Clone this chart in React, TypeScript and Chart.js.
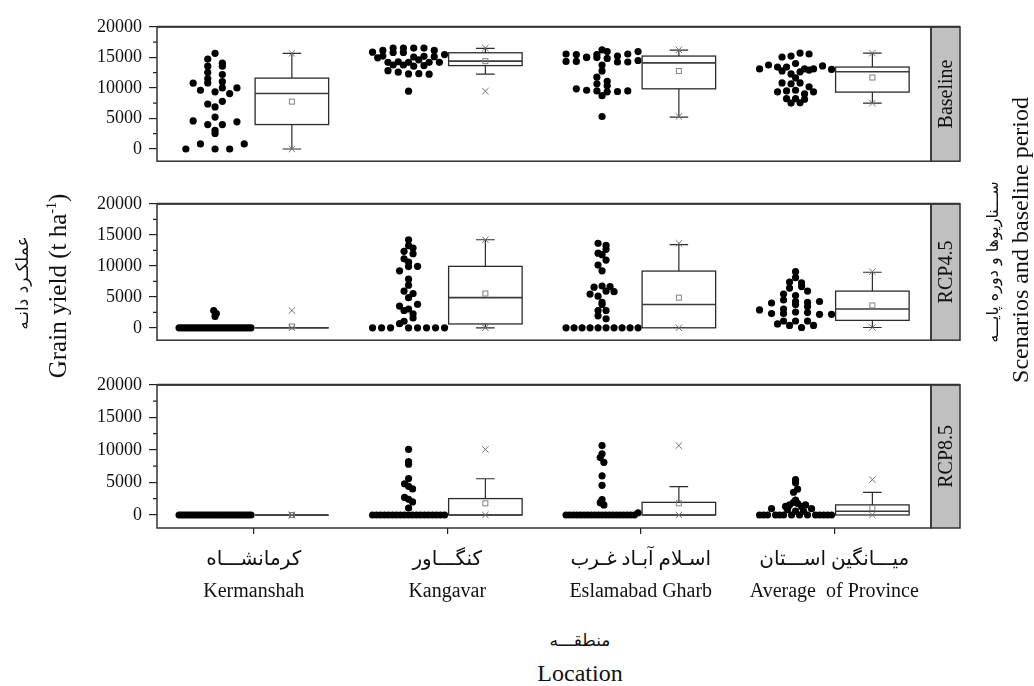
import React, { useEffect, useRef } from "react";
import { Chart, registerables } from "chart.js";

Chart.register(...registerables);

// ---------- categories / labels ----------
const locationsFa = ["کرمانشـــاه", "کنگـــاور", "اسـلام آبـاد غـرب", "میـــانگین اســـتان"];
const locationsEn = ["Kermanshah", "Kangavar", "Eslamabad Gharb", "Average  of Province"];
const scenarioLabels = ["Baseline", "RCP4.5", "RCP8.5"];
const yTickValues = [0, 2500, 5000, 7500, 10000, 12500, 15000, 17500, 20000];
const categoryTicks = [1, 2, 3, 4];

// ---------- Baseline yields ----------
const baseKermanshah = [15650, 14720, 13550, 14040, 13550, 12530, 12190, 11510, 11020, 10780, 10820, 10000, 9610, 10000, 9360, 9070, 7360, 7800, 6880, 4590, 4000, 4000, 4440, 5220, 2540, 3030, 0, 830, 0, 0, 830];
const baseKangavar = [15840, 14920, 15210, 16140, 16520, 16520, 16520, 16520, 15790, 15790, 16140, 14190, 14280, 13750, 14190, 14580, 14190, 13750, 15060, 13550, 13650, 15160, 15110, 15450, 14190, 12820, 12580, 12290, 12330, 12240, 9460];
const baseEslamabad = [15550, 14330, 14330, 15450, 15060, 15450, 15940, 16230, 14970, 14970, 14820, 14240, 13750, 14240, 15210, 15550, 15940, 14480, 12770, 11750, 11070, 10680, 10340, 9850, 9610, 9510, 9360, 9410, 8730, 9510, 5320];
const baseAverage = [13110, 13750, 13410, 13410, 15060, 15210, 15700, 15550, 13990, 13110, 13110, 12770, 12290, 12630, 12920, 13600, 13020, 11650, 10820, 10680, 10820, 10190, 9360, 9510, 9610, 9020, 8240, 9360, 7510, 7560, 8240, 8140];

// ---------- RCP4.5 yields ----------
const rcp45Kermanshah = [0, 0, 0, 0, 0, 0, 0, 0, 0, 0, 0, 0, 0, 0, 0, 0, 0, 0, 0, 0, 0, 0, 0, 0, 0, 0, 0, 0, 2790, 2310, 1830];
const rcp45Kangavar = [0, 0, 0, 670, 0, 0, 0, 0, 1060, 1590, 2790, 3510, 2250, 3030, 3800, 4860, 5920, 5530, 6880, 7850, 9190, 9870, 10590, 9910, 11130, 11940, 12330, 12860, 13240, 14200, 0];
const rcp45Eslamabad = [0, 0, 0, 0, 0, 0, 0, 0, 0, 0, 1930, 1450, 2790, 3760, 2790, 4090, 5440, 5100, 5920, 5820, 6550, 6740, 6650, 9190, 10120, 10930, 12040, 11790, 12660, 13630, 13290];
const rcp45Average = [3030, 3760, 2890, 2310, 2310, 4000, 2550, 2460, 2170, 2170, 3420, 4480, 4240, 4090, 4240, 5440, 5200, 5920, 7370, 6400, 6650, 8090, 9050, 7230, 1100, 620, 1100, 380, 50, 1100, 380];

// ---------- RCP8.5 yields ----------
const rcp85Kermanshah = [0, 0, 0, 0, 0, 0, 0, 0, 0, 0, 0, 0, 0, 0, 0, 0, 0, 0, 0, 0, 0, 0, 0, 0, 0, 0, 0, 0, 0, 0, 0];
const rcp85Kangavar = [0, 0, 0, 0, 0, 0, 0, 0, 0, 0, 0, 0, 0, 0, 0, 0, 0, 0, 0, 10080, 8200, 7800, 5600, 4800, 4400, 4000, 2700, 2400, 2000, 1070];
const rcp85Eslamabad = [0, 0, 0, 0, 0, 0, 0, 0, 0, 0, 0, 0, 0, 0, 0, 0, 0, 0, 0, 0, 340, 10660, 9400, 8820, 8090, 6010, 4550, 2370, 1890, 1550];
const rcp85Average = [0, 0, 0, 970, 0, 0, 0, 820, 0, 580, 0, 580, 0, 970, 0, 0, 0, 0, 0, 1310, 1550, 1940, 1790, 1310, 1550, 2280, 3490, 5430, 4940, 3970];

// ---------- box statistics (per location) ----------
const baseQ1 = [4000, 13650, 9850, 9310];
const baseMedian = [9070, 14380, 14090, 12630];
const baseQ3 = [11600, 15750, 15210, 13410];
const baseMean = [7750, 14380, 12770, 11700];
const baseWhiskerLow = [0, 12240, 5220, 7510];
const baseWhiskerHigh = [15650, 16480, 16190, 15700];

const rcp45Q1 = [0, 620, 0, 1200];
const rcp45Median = [0, 4860, 3760, 3030];
const rcp45Q3 = [0, 9910, 9150, 5920];
const rcp45Mean = [220, 5530, 4860, 3610];
const rcp45WhiskerLow = [0, 0, 0, 50];
const rcp45WhiskerHigh = [0, 14200, 13430, 8960];

const rcp85Q1 = [0, 0, 0, 0];
const rcp85Median = [0, 0, 0, 580];
const rcp85Q3 = [0, 2520, 1940, 1550];
const rcp85Mean = [0, 1790, 1790, 1070];
const rcp85WhiskerLow = [0, 0, 0, 0];
const rcp85WhiskerHigh = [0, 5570, 4360, 3470];

// ---------- layout constants ----------
const SERIF = "'Liberation Serif', 'Times New Roman', 'DejaVu Sans', serif";
const PLOT_LEFT = 157;
const PLOT_RIGHT = 931;
const CANVAS_W = 1034;
const STRIP_W = 29;
const X_MIN = 0.5;
const X_MAX = 4.5;
const Y_MIN = -2000;
const Y_MAX = 20000;
const DOT_SHIFT = -0.2;
const BOX_SHIFT = 0.197;
const BOX_HALF = 0.19;
const CAP_HALF = 0.048;
const DOT_R = 3.6;
const BIN = 1000;
const SWARM_W = 72;
const MAX_SPACING = 14.6;
const X_AXIS_H = 90;

type Panel = {
  label: string;
  series: number[][];
  q1: number[];
  median: number[];
  q3: number[];
  mean: number[];
  wLo: number[];
  wHi: number[];
  plotH: number;
  canvasTop: number;
  xAxis: boolean;
};

const panels: Panel[] = [
  { label: scenarioLabels[0], series: [baseKermanshah, baseKangavar, baseEslamabad, baseAverage], q1: baseQ1, median: baseMedian, q3: baseQ3, mean: baseMean, wLo: baseWhiskerLow, wHi: baseWhiskerHigh, plotH: 150, canvasTop: 9, xAxis: false },
  { label: scenarioLabels[1], series: [rcp45Kermanshah, rcp45Kangavar, rcp45Eslamabad, rcp45Average], q1: rcp45Q1, median: rcp45Median, q3: rcp45Q3, mean: rcp45Mean, wLo: rcp45WhiskerLow, wHi: rcp45WhiskerHigh, plotH: 152, canvasTop: 186, xAxis: false },
  { label: scenarioLabels[2], series: [rcp85Kermanshah, rcp85Kangavar, rcp85Eslamabad, rcp85Average], q1: rcp85Q1, median: rcp85Median, q3: rcp85Q3, mean: rcp85Mean, wLo: rcp85WhiskerLow, wHi: rcp85WhiskerHigh, plotH: 151, canvasTop: 367, xAxis: true },
];

// binned beeswarm layout: horizontal pixel offsets for one group's points
function swarm(values: number[]): number[] {
  const bins = new Map<number, number[]>();
  values.forEach((v, i) => {
    const b = Math.floor(v / BIN);
    if (!bins.has(b)) bins.set(b, []);
    bins.get(b)!.push(i);
  });
  let maxCount = 1;
  bins.forEach((idx) => {
    if (idx.length > maxCount) maxCount = idx.length;
  });
  const spacing = maxCount > 1 ? Math.min(MAX_SPACING, SWARM_W / (maxCount - 1)) : 0;
  const offsets = new Array(values.length).fill(0);
  bins.forEach((idx) => {
    const n = idx.length;
    idx.forEach((i, k) => {
      offsets[i] = (k - (n - 1) / 2) * spacing;
    });
  });
  return offsets;
}

function makePlugin(p: Panel) {
  return {
    id: "boxAndFrame",
    afterDatasetsDraw(chart: any) {
      const ctx = chart.ctx;
      const xs = chart.scales.x;
      const ys = chart.scales.y;
      ctx.save();
      for (let g = 0; g < 4; g++) {
        const c = g + 1 + BOX_SHIFT;
        const cx = xs.getPixelForValue(c);
        const hw = xs.getPixelForValue(c + BOX_HALF) - cx;
        const cap = xs.getPixelForValue(c + CAP_HALF) - cx;
        const yQ1 = ys.getPixelForValue(p.q1[g]);
        const yQ3 = ys.getPixelForValue(p.q3[g]);
        const yMed = ys.getPixelForValue(p.median[g]);
        const yLo = ys.getPixelForValue(p.wLo[g]);
        const yHi = ys.getPixelForValue(p.wHi[g]);
        ctx.strokeStyle = "#2b2b2b";
        ctx.lineWidth = 1.2;
        ctx.beginPath();
        if (p.wHi[g] > p.q3[g]) {
          ctx.moveTo(cx, yQ3);
          ctx.lineTo(cx, yHi);
          ctx.moveTo(cx - cap, yHi);
          ctx.lineTo(cx + cap, yHi);
        }
        if (p.wLo[g] < p.q1[g]) {
          ctx.moveTo(cx, yQ1);
          ctx.lineTo(cx, yLo);
          ctx.moveTo(cx - cap, yLo);
          ctx.lineTo(cx + cap, yLo);
        }
        ctx.stroke();
        ctx.lineWidth = 1.3;
        ctx.strokeRect(cx - hw, yQ3, 2 * hw, yQ1 - yQ3);
        ctx.strokeStyle = "#3a3a3a";
        ctx.lineWidth = 1.6;
        ctx.beginPath();
        ctx.moveTo(cx - hw, yMed);
        ctx.lineTo(cx + hw, yMed);
        ctx.stroke();
        const yMean = ys.getPixelForValue(p.mean[g]);
        ctx.strokeStyle = "#808080";
        ctx.lineWidth = 1;
        ctx.strokeRect(cx - 2.5, yMean - 2.5, 5, 5);
        const vals = p.series[g];
        const mn = Math.min(...vals);
        const mx = Math.max(...vals);
        ctx.strokeStyle = "#6f6f6f";
        ctx.beginPath();
        for (const v of [mn, mx]) {
          const yy = ys.getPixelForValue(v);
          ctx.moveTo(cx - 3.2, yy - 3.2);
          ctx.lineTo(cx + 3.2, yy + 3.2);
          ctx.moveTo(cx + 3.2, yy - 3.2);
          ctx.lineTo(cx - 3.2, yy + 3.2);
        }
        ctx.stroke();
      }
      ctx.restore();
    },
    afterDraw(chart: any) {
      const ctx = chart.ctx;
      const ys = chart.scales.y;
      const { left, right, top, bottom } = chart.chartArea;
      ctx.save();
      ctx.strokeStyle = "#222";
      ctx.lineWidth = 1.2;
      ctx.beginPath();
      for (const v of yTickValues) {
        if (v % 5000 !== 0) {
          const y = ys.getPixelForValue(v);
          ctx.moveTo(left - 4, y);
          ctx.lineTo(left, y);
        }
      }
      ctx.stroke();
      ctx.fillStyle = "#c0c0c0";
      ctx.fillRect(right, top, STRIP_W, bottom - top);
      ctx.strokeStyle = "#333";
      ctx.lineWidth = 1.5;
      ctx.strokeRect(right, top, STRIP_W, bottom - top);
      ctx.strokeRect(left, top, right - left, bottom - top);
      ctx.lineWidth = 2;
      ctx.beginPath();
      ctx.moveTo(left, top);
      ctx.lineTo(right + STRIP_W, top);
      ctx.stroke();
      ctx.translate(right + STRIP_W / 2, (top + bottom) / 2);
      ctx.rotate(-Math.PI / 2);
      ctx.fillStyle = "#111";
      ctx.font = `20px ${SERIF}`;
      ctx.textAlign = "center";
      ctx.textBaseline = "middle";
      ctx.fillText(p.label, 0, 1);
      ctx.restore();
    },
  };
}

function PanelChart({ p }: { p: Panel }) {
  const ref = useRef<HTMLCanvasElement>(null);
  const height = 10 + p.plotH + (p.xAxis ? X_AXIS_H : 10);
  useEffect(() => {
    if (!ref.current) return;
    const pxPerUnit = (PLOT_RIGHT - PLOT_LEFT) / (X_MAX - X_MIN);
    const points: { x: number; y: number }[] = [];
    p.series.forEach((vals, g) => {
      const offs = swarm(vals);
      vals.forEach((v, i) => points.push({ x: g + 1 + DOT_SHIFT + offs[i] / pxPerUnit, y: v }));
    });
    const chart = new Chart(ref.current, {
      type: "scatter",
      data: {
        datasets: [
          {
            data: points,
            pointRadius: DOT_R,
            pointHoverRadius: DOT_R,
            backgroundColor: "#000",
            borderWidth: 0,
          },
        ],
      },
      options: {
        animation: false,
        responsive: false,
        devicePixelRatio: 1,
        layout: { padding: { left: 0, top: 10, right: CANVAS_W - PLOT_RIGHT, bottom: p.xAxis ? 0 : 10 } },
        plugins: { legend: { display: false }, tooltip: { enabled: false }, title: { display: false } },
        scales: {
          x: {
            type: "linear",
            min: X_MIN,
            max: X_MAX,
            display: p.xAxis,
            afterBuildTicks: (s: any) => {
              s.ticks = categoryTicks.map((v) => ({ value: v }));
            },
            afterFit: (s: any) => {
              if (p.xAxis) s.height = X_AXIS_H;
            },
            ticks: {
              autoSkip: false,
              maxRotation: 0,
              padding: 10,
              color: "#111",
              font: { family: SERIF, size: 20, lineHeight: 1.6 },
              callback: (_v: any, i: number) => [locationsFa[i], locationsEn[i]],
            },
            grid: { drawOnChartArea: false, drawTicks: true, tickLength: 6, color: "#222", lineWidth: 1.2 },
            border: { display: false },
          },
          y: {
            type: "linear",
            min: Y_MIN,
            max: Y_MAX,
            afterBuildTicks: (s: any) => {
              s.ticks = yTickValues.map((v) => ({ value: v }));
            },
            afterFit: (s: any) => {
              s.width = PLOT_LEFT;
            },
            ticks: {
              autoSkip: false,
              padding: 7,
              color: "#111",
              font: { family: SERIF, size: 18 },
              callback: (v: any) => (Number(v) % 5000 === 0 ? String(v) : ""),
            },
            grid: {
              drawOnChartArea: false,
              drawTicks: true,
              tickLength: 8,
              lineWidth: 1.2,
              color: (c: any) => (c.tick && c.tick.value % 5000 === 0 ? "#222" : "rgba(0,0,0,0)"),
            },
            border: { display: false },
          },
        },
      } as any,
      plugins: [makePlugin(p)],
    });
    return () => chart.destroy();
  }, [p]);
  return (
    <canvas
      ref={ref}
      width={CANVAS_W}
      height={height}
      style={{ position: "absolute", left: 0, top: p.canvasTop, width: CANVAS_W, height }}
    />
  );
}

const rotStyle = (x: number, y: number, size: number, family: string): React.CSSProperties => ({
  position: "absolute",
  left: x,
  top: y,
  transform: "translate(-50%, -50%) rotate(-90deg)",
  whiteSpace: "nowrap",
  fontSize: size,
  fontFamily: family,
  color: "#111",
  lineHeight: 1,
});

const flatStyle = (x: number, y: number, size: number, family: string): React.CSSProperties => ({
  position: "absolute",
  left: x,
  top: y,
  transform: "translate(-50%, -50%)",
  whiteSpace: "nowrap",
  fontSize: size,
  fontFamily: family,
  color: "#111",
  lineHeight: 1,
});

const yTitleFa = "عملکـرد دانـه";
const yTitleEn = "Grain yield (t ha";
const rightTitleFa = "ســـناریوها  و دوره پایـــه";
const rightTitleEn = "Scenarios and baseline period";
const xTitleFa = "منطقـــه";
const xTitleEn = "Location";

export default function App() {
  return (
    <div style={{ position: "absolute", left: 0, top: 0, width: 1034, height: 686, background: "#fff", overflow: "hidden" }}>
      {panels.map((p, i) => (
        <PanelChart key={i} p={p} />
      ))}
      <div style={rotStyle(22, 283, 17, "'DejaVu Sans', sans-serif")}>{yTitleFa}</div>
      <div style={rotStyle(57, 286, 25, SERIF)}>
        {yTitleEn}
        <sup style={{ fontSize: 14 }}>-1</sup>)
      </div>
      <div style={rotStyle(993, 262, 16, "'DejaVu Sans', sans-serif")}>{rightTitleFa}</div>
      <div style={rotStyle(1020, 240, 24, SERIF)}>{rightTitleEn}</div>
      <div style={flatStyle(580, 640, 17, "'DejaVu Sans', sans-serif")}>{xTitleFa}</div>
      <div style={flatStyle(580, 673, 24, SERIF)}>{xTitleEn}</div>
    </div>
  );
}
